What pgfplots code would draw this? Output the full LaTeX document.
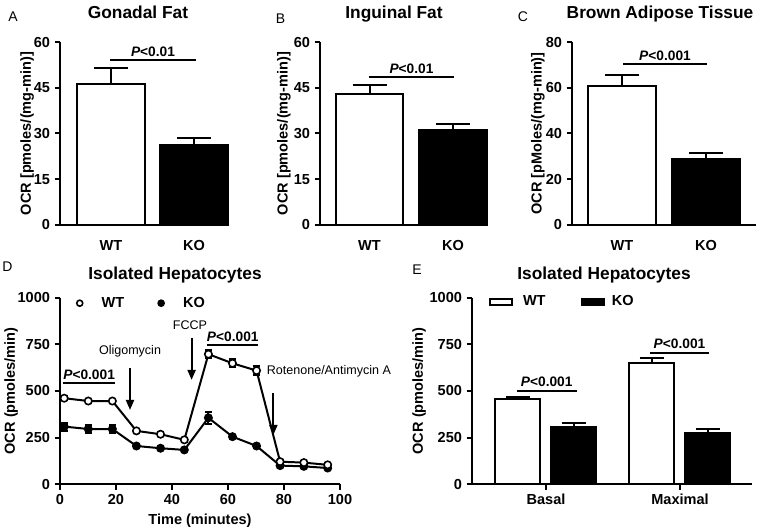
\documentclass[border=0pt]{standalone}
\usepackage{fontspec}
\setmainfont{Liberation Sans}
\usepackage{pgfplots}
\pgfplotsset{compat=1.18}
\usetikzlibrary{arrows.meta}

% font sizes (1 px of the reference = 0.75pt)
\newcommand{\tl}{\fontsize{10.9}{12}\selectfont\bfseries}
\newcommand{\ttl}{\fontsize{13}{15}\selectfont\bfseries}
\newcommand{\pv}{\fontsize{10.3}{12}\selectfont\bfseries}
\newcommand{\ann}{\fontsize{9.4}{11}\selectfont}
\newcommand{\lett}{\fontsize{10.5}{12}\selectfont}

\tikzset{bracket/.style={line width=1.5pt}}
\pgfplotsset{
  panel/.style={
    scale only axis, anchor=south west,
    axis x line*=bottom, axis y line*=left,
    axis line style={line width=1.5pt},
    tick style={line width=1.5pt, black},
    tick align=outside, major tick length=4pt,
    ticklabel style={font=\tl},
    /pgf/number format/assume math mode=true,
    /pgf/number format/1000 sep={},
    label style={font=\tl},
    enlargelimits=false, clip=false,
  },
  barpanel/.style={
    panel, ymin=0, height=137.25pt,
    xtick style={draw=none},
    xticklabel style={yshift=-4pt},
    xticklabels={WT,KO},
  },
  wtbar/.style={ybar, bar shift=0pt, fill=white, draw=black, line width=1.5pt,
    error bars/y dir=plus, error bars/y explicit,
    error bars/error bar style={line width=1.5pt},
    error bars/error mark options={rotate=90, line width=1.5pt, mark size=#1}},
  kobar/.style={wtbar=#1, fill=black},
  timecourse/.style={forget plot, black, line width=1.5pt, mark=*, mark size=2.75pt,
    mark options={line width=1.2pt, fill=#1},
    error bars/y dir=both, error bars/y explicit,
    error bars/error bar style={line width=1.5pt},
    error bars/error mark options={rotate=90, line width=1.5pt, mark size=2.6pt}},
}

\begin{document}
\begin{tikzpicture}
\useasboundingbox (0pt,0pt) rectangle (567.75pt,-397.5pt);

% ---------------- A
\begin{axis}[barpanel, at={(45pt,-168.75pt)}, width=126pt,
  xmin=0, xmax=168, ymax=60, ytick={0,15,30,45,60}, xtick={51,134},
  ylabel={OCR [pmoles/(mg-min)]},
  ylabel style={at={(axis description cs:-0.196,0.5)}, anchor=center}]
\addplot[bar width=68, wtbar=12.75pt] coordinates {(51,46.2) +- (0,5.3)};
\addplot[bar width=68, kobar=12.75pt] coordinates {(134,26.2) +- (0,2.3)};
\draw[bracket] (axis cs:50,54) -- (axis cs:136,54)
  node[midway, above, inner sep=2pt, font=\pv] {\textit{P}<0.01};
\end{axis}

% ---------------- B
\begin{axis}[barpanel, at={(240pt,-168.75pt)}, width=125.25pt,
  xmin=0, xmax=167, ymax=60, ytick={0,15,30,45,60}, xtick={49.5,133},
  ylabel={OCR [pmoles/(mg-min)]},
  ylabel style={at={(axis description cs:-0.216,0.5)}, anchor=center}]
\addplot[bar width=67, wtbar=12.75pt] coordinates {(49.5,42.9) +- (0,3.0)};
\addplot[bar width=68, kobar=12.75pt] coordinates {(133,31.1) +- (0,1.9)};
\draw[bracket] (axis cs:49,48.5) -- (axis cs:134,48.5)
  node[midway, above, inner sep=2pt, font=\pv] {\textit{P}<0.01};
\end{axis}

% ---------------- C
\begin{axis}[barpanel, at={(429pt,-168.75pt)}, width=138pt,
  xmin=0, xmax=184, ymax=80, ytick={0,20,40,60,80}, xtick={50,134},
  ylabel={OCR [pMoles/(mg-min)]},
  ylabel style={at={(axis description cs:-0.185,0.5)}, anchor=center}]
\addplot[bar width=68, wtbar=12.75pt] coordinates {(50,60.8) +- (0,4.8)};
\addplot[bar width=68, kobar=12.75pt] coordinates {(134,28.9) +- (0,2.4)};
\draw[bracket] (axis cs:51,70.2) -- (axis cs:135,70.2)
  node[midway, above, inner sep=2pt, font=\pv] {\textit{P}<0.001};
\end{axis}

% ---------------- D
\begin{axis}[panel, at={(45pt,-363.2pt)}, width=210pt, height=140pt,
  xmin=0, xmax=100, ymin=0, ymax=1000,
  xtick={0,20,...,100}, ytick={0,250,500,750,1000},
  xlabel={Time (minutes)},
  ylabel={OCR (pmoles/min)},
  ylabel style={at={(axis description cs:-0.175,0.5)}, anchor=center},
  legend columns=2, legend cell align=left,
  legend style={draw=none, fill=none, inner sep=0pt,
    at={(axis description cs:0.056,0.970)}, anchor=west,
    nodes={inner sep=0pt, font=\tl},
    /tikz/every even column/.append style={column sep=24.75pt}}]
% KO
\addplot[timecourse=black] coordinates {
  (1.5,309) +- (0,21) (10.1,296) +- (0,20) (18.7,296) +- (0,20)
  (27.3,205) +- (0,8) (35.9,193) +- (0,6) (44.4,184) +- (0,6)
  (53,356) +- (0,33) (61.6,255) +- (0,8) (70.2,205) +- (0,6)
  (78.6,100) +- (0,6) (87.1,96) +- (0,6) (95.6,87) +- (0,6)};
% WT
\addplot[timecourse=white] coordinates {
  (1.5,461) +- (0,10) (10.1,446) +- (0,8) (18.7,446) +- (0,8)
  (27.3,286) +- (0,8) (35.9,268) +- (0,8) (44.4,238) +- (0,10)
  (53,697) +- (0,20) (61.6,648) +- (0,22) (70.2,609) +- (0,25)
  (78.6,121) +- (0,8) (87.1,116) +- (0,8) (95.6,104) +- (0,6)};
\addlegendimage{legend image code/.code={\draw[line width=1.2pt, fill=white] (0pt,0pt) circle (2.25pt); \path[draw=none, fill=none] (0pt,0pt) -- (16.5pt,0pt);}}
\addlegendentry{WT}
\addlegendimage{legend image code/.code={\draw[line width=1.2pt, fill=black] (0pt,0pt) circle (2.25pt); \path[draw=none, fill=none] (0pt,0pt) -- (16.5pt,0pt);}}
\addlegendentry{KO}
% significance bars
\draw[bracket] (axis cs:1.2,541) -- (axis cs:19.6,541)
  node[midway, above, inner sep=2pt, font=\pv] {\textit{P}<0.001};
\draw[bracket] (axis cs:52.6,746) -- (axis cs:70.8,746)
  node[midway, above, inner sep=2pt, font=\pv] {\textit{P}<0.001};
% injections
\draw[line width=1.5pt, -{Triangle[length=7.5pt, width=6pt]}] (axis cs:25,621) -- (axis cs:25,398);
\node[font=\ann] at (axis cs:25,711) {Oligomycin};
\draw[line width=1.5pt, -{Triangle[length=7.5pt, width=6pt]}] (axis cs:47,782) -- (axis cs:47,559);
\node[font=\ann] at (axis cs:46.4,854) {FCCP};
\draw[line width=1.5pt, -{Triangle[length=7.5pt, width=6pt]}] (axis cs:76.2,487) -- (axis cs:76.2,264);
\node[font=\ann, anchor=west, inner sep=0pt] at (axis cs:73.8,604) {Rotenone/Antimycin A};
\end{axis}

% ---------------- E
\begin{axis}[panel, at={(354pt,-363.2pt)}, width=210pt, height=140pt,
  xmin=0, xmax=280, ymin=0, ymax=1000,
  xtick={74,208}, xticklabels={Basal,Maximal},
  ytick={0,250,500,750,1000},
  ylabel={OCR (pmoles/min)},
  ylabel style={at={(axis description cs:-0.189,0.5)}, anchor=center},
  legend columns=2, legend cell align=left,
  legend style={draw=none, fill=none, inner sep=0pt,
    at={(axis description cs:0.061,0.977)}, anchor=west,
    nodes={inner sep=0pt, font=\tl},
    /tikz/every even column/.append style={column sep=26.5pt}}]
\addplot[forget plot, bar width=45, wtbar=9pt] coordinates {(45.5,455) +- (0,15) (179.5,652) +- (0,27)};
\addplot[forget plot, bar width=45, kobar=9pt] coordinates {(101.5,305) +- (0,22) (235.5,277) +- (0,19)};
\addlegendimage{legend image code/.code={\draw[line width=1.5pt, fill=white] (0pt,-2.5pt) rectangle (16.5pt,2.5pt); \path[draw=none, fill=none] (0pt,0pt) -- (24.5pt,0pt);}}
\addlegendentry{WT}
\addlegendimage{legend image code/.code={\draw[line width=1.5pt, fill=black] (0pt,-2.5pt) rectangle (16.5pt,2.5pt); \path[draw=none, fill=none] (0pt,0pt) -- (22.5pt,0pt);}}
\addlegendentry{KO}
\draw[bracket] (axis cs:44.7,502) -- (axis cs:104.7,502)
  node[midway, above, inner sep=2pt, font=\pv] {\textit{P}<0.001};
\draw[bracket] (axis cs:178,705) -- (axis cs:237,705)
  node[midway, above, inner sep=2pt, font=\pv] {\textit{P}<0.001};
\end{axis}

% ---------------- titles and panel letters
\node[font=\ttl, anchor=base] at (103.5pt,-13.8pt) {Gonadal Fat};
\node[font=\ttl, anchor=base] at (295.5pt,-13.8pt) {Inguinal Fat};
\node[font=\ttl, anchor=base] at (495pt,-13.8pt) {Brown Adipose Tissue};
\node[font=\ttl, anchor=base] at (131.25pt,-209.8pt) {Isolated Hepatocytes};
\node[font=\ttl, anchor=base] at (453pt,-209.8pt) {Isolated Hepatocytes};
\node[font=\lett] at (9.75pt,-12.75pt) {A};
\node[font=\lett] at (210.4pt,-13.9pt) {B};
\node[font=\lett] at (392.25pt,-12.75pt) {C};
\node[font=\lett] at (5.6pt,-200.25pt) {D};
\node[font=\lett] at (312.75pt,-202.5pt) {E};
\end{tikzpicture}
\end{document}
